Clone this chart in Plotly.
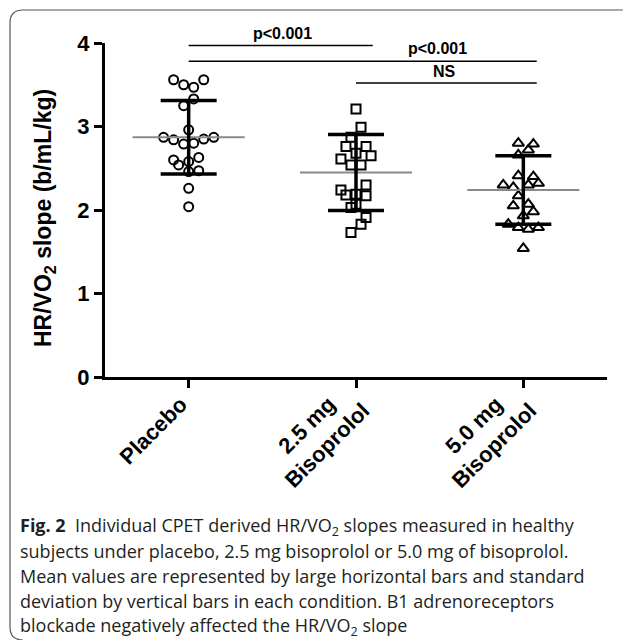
import plotly.graph_objects as go

# ---------------- data ----------------
categories = ["Placebo", "2.5 mg<br>Bisoprolol", "5.0 mg<br>Bisoprolol"]

placebo = [3.56, 3.50, 3.47, 3.56, 3.33, 3.25, 2.96, 2.87, 2.84, 2.79, 2.80,
           2.85, 2.87, 2.63, 2.60, 2.54, 2.58, 2.46, 2.47, 2.26, 2.04]
placebo_col = [-1.5, -0.5, 0.5, 1.5, 0.5, -0.5, 0, -2.5, -1.5, -0.5, 0.5,
               1.5, 2.5, 1, -1.5, -1, 0, 0, 1, 0, 0]

biso25 = [3.21, 2.99, 2.87, 2.76, 2.76, 2.68, 2.65, 2.61, 2.54, 2.54, 2.30,
          2.24, 2.18, 2.19, 2.17, 2.07, 2.03, 1.91, 1.83, 1.73]
biso25_col = [0, 0.5, -0.5, -1, 1, 0, 1.5, -1.5, -0.5, 0.5, 1,
              -1.5, -1, 0, 1, 0, -0.5, 1, 0.5, -0.5]

biso50 = [2.80, 2.79, 2.72, 2.66, 2.41, 2.40, 2.30, 2.27, 2.30, 2.32, 2.17,
          2.05, 2.07, 1.98, 1.93, 1.83, 1.79, 1.77, 1.79, 1.54]
biso50_col = [-0.5, 1, 0.5, -0.5, -0.5, 1, -2, -1, 0.5, 1.5, -0.5,
              -1, 0.5, 1, 0, -1.5, -0.5, 0.5, 1.5, 0]

means = [2.87, 2.45, 2.24]
sds = [0.44, 0.455, 0.41]

y_ticks = [0, 1, 2, 3, 4]
y_title = "HR/VO<sub>2</sub> slope (b/mL/kg)"

comparisons = [  # (from group, to group, y level, label)
    (0, 1.1, 3.97, "p<0.001"),
    (0, 2.08, 3.78, "p<0.001"),
    (1, 2.08, 3.52, "NS"),
]
label_pos = [(0.56, 4.11), (1.49, 3.93), (1.53, 3.66)]

caption_lines = [
    "<b>Fig. 2</b>  Individual CPET derived HR/VO<sub>2</sub> slopes measured in healthy",
    "subjects under placebo, 2.5 mg bisoprolol or 5.0 mg of bisoprolol.",
    "Mean values are represented by large horizontal bars and standard",
    "deviation by vertical bars in each condition. B1 adrenoreceptors",
    "blockade negatively affected the HR/VO<sub>2</sub> slope",
]

# ---------------- layout geometry ----------------
W, H = 623, 640
ML, MR, MT, MB = 105, 16, 43, 263
PW, PH = W - ML - MR, H - MT - MB
Y_RANGE = [0, 4]
X_RANGE = [-0.5, 2.5]
JIT = 0.06


def px_x(px):
    return (px - ML) / PW


def px_y(py):
    return (H - MB - py) / PH


def data_y_to_paper(v):
    return (v - Y_RANGE[0]) / (Y_RANGE[1] - Y_RANGE[0])


fig = go.Figure()

groups = [(placebo, placebo_col, "circle-open", 9),
          (biso25, biso25_col, "square-open", 9),
          (biso50, biso50_col, "triangle-up-open", 10)]

for i, (vals, cols, sym, sz) in enumerate(groups):
    fig.add_trace(go.Scatter(
        x=[i + c * JIT for c in cols], y=vals, mode="markers",
        marker=dict(symbol=sym, size=sz, color="black", line=dict(width=2, color="black")),
        showlegend=False, hoverinfo="skip", cliponaxis=False))

for i, m in enumerate(means):
    fig.add_trace(go.Scatter(
        x=[i - 0.335, i + 0.335], y=[m, m], mode="lines",
        line=dict(color="#8a8a8a", width=2), showlegend=False, hoverinfo="skip"))

fig.add_trace(go.Scatter(
    x=[0, 1, 2], y=means, mode="markers",
    marker=dict(size=1, color="rgba(0,0,0,0)"),
    error_y=dict(type="data", array=sds, color="black", thickness=3.5, width=28),
    showlegend=False, hoverinfo="skip"))

shapes = []
annotations = []
for (a, b, yv, lab), (lx, ly) in zip(comparisons, label_pos):
    shapes.append(dict(type="line", xref="x", yref="paper", x0=a, x1=b,
                       y0=data_y_to_paper(yv), y1=data_y_to_paper(yv),
                       line=dict(color="black", width=1.5)))
    annotations.append(dict(xref="x", yref="paper", x=lx, y=data_y_to_paper(ly),
                            xanchor="center", yanchor="middle",
                            text=lab, showarrow=False,
                            font=dict(family="Liberation Sans", size=16, color="black", weight="bold")))

# rotated category labels (centre-aligned lines like the original)
for i, lab in enumerate(categories):
    multi = "<br>" in lab
    annotations.append(dict(xref="x", yref="paper", x=i, y=0,
                            xanchor="right", yanchor="top",
                            xshift=22 if multi else 6, yshift=2 if multi else -12,
                            text=lab, showarrow=False, textangle=-45, align="center",
                            font=dict(family="Liberation Sans", size=22, color="black", weight="bold")))

# y-axis title
annotations.append(dict(xref="paper", yref="paper", x=px_x(44), y=px_y(218),
                        xanchor="center", yanchor="middle", textangle=-90,
                        text=y_title, showarrow=False,
                        font=dict(family="Liberation Sans", size=23, color="black", weight="bold")))

# frame
frame_path = (f"M {px_x(623)} {px_y(10)} L {px_x(23)} {px_y(10)} "
              f"Q {px_x(10)} {px_y(10)} {px_x(10)} {px_y(23)} "
              f"L {px_x(10)} {px_y(627)} Q {px_x(10)} {px_y(640)} {px_x(23)} {px_y(640)}")
shapes.append(dict(type="path", xref="paper", yref="paper", path=frame_path,
                   line=dict(color="#555555", width=1.2)))

cap_y = [526, 551, 576, 601, 626]
for txt, cy in zip(caption_lines, cap_y):
    annotations.append(dict(xref="paper", yref="paper", x=px_x(18), y=px_y(cy),
                            xanchor="left", yanchor="middle", text=txt, showarrow=False,
                            font=dict(family="Open Sans", size=18, color="#231f20")))

fig.update_layout(
    width=W, height=H, margin=dict(l=ML, r=MR, t=MT, b=MB),
    paper_bgcolor="white", plot_bgcolor="white",
    shapes=shapes, annotations=annotations,
    xaxis=dict(range=X_RANGE, tickvals=[0, 1, 2], showticklabels=False,
               showgrid=False, zeroline=False,
               showline=True, linecolor="black", linewidth=3,
               ticks="outside", ticklen=8, tickwidth=3, tickcolor="black"),
    yaxis=dict(range=Y_RANGE, tickvals=y_ticks, showgrid=False, zeroline=False,
               showline=True, linecolor="black", linewidth=3,
               ticks="outside", ticklen=8, tickwidth=3, tickcolor="black",
               tickfont=dict(family="Liberation Sans", size=22, color="black", weight="bold")),
)

fig.write_html("out.html", config={"displayModeBar": False},
               post_script="document.body.style.margin='0';")
